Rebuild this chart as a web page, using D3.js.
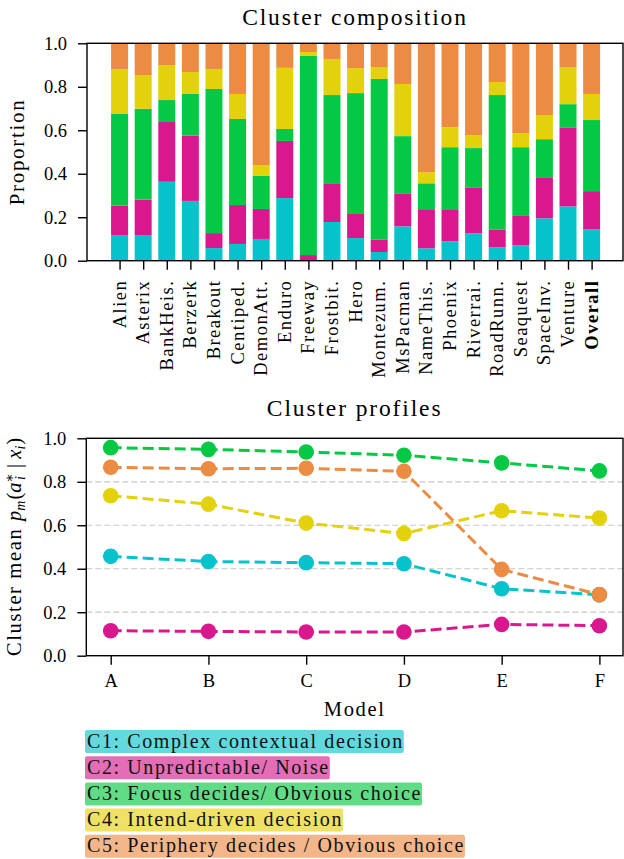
<!DOCTYPE html>
<html>
<head>
<meta charset="utf-8">
<script src="https://cdn.jsdelivr.net/npm/d3@7"></script>
<style>
  body { margin: 0; background: #fff; }
  svg { font-family: "Liberation Serif", "DejaVu Serif", serif; }
  .word { letter-spacing: 0.08em; }
</style>
</head>
<body>
<script>
// games on the top chart
var games = ["Alien", "Asterix", "BankHeis.", "Berzerk", "Breakout", "Centiped.", "DemonAtt.",
  "Enduro", "Freeway", "Frostbit.", "Hero", "Montezum.", "MsPacman", "NameThis.", "Phoenix",
  "Riverrai.", "RoadRunn.", "Seaquest", "SpaceInv.", "Venture", "Overall"];

// share of each cluster per game
var c1 = [0.118, 0.118, 0.363, 0.275, 0.058, 0.077, 0.100, 0.288, 0.000, 0.178, 0.104,
  0.040, 0.158, 0.057, 0.089, 0.126, 0.061, 0.071, 0.195, 0.250, 0.144];
var c2 = [0.135, 0.163, 0.275, 0.300, 0.069, 0.179, 0.138, 0.263, 0.026, 0.175, 0.111,
  0.058, 0.152, 0.180, 0.148, 0.209, 0.083, 0.138, 0.189, 0.361, 0.176];
var c3 = [0.422, 0.418, 0.101, 0.192, 0.663, 0.396, 0.152, 0.055, 0.916, 0.409, 0.556,
  0.738, 0.263, 0.119, 0.285, 0.183, 0.618, 0.313, 0.175, 0.109, 0.327];
var c4 = [0.207, 0.155, 0.161, 0.101, 0.092, 0.115, 0.050, 0.281, 0.018, 0.166, 0.115,
  0.055, 0.240, 0.051, 0.092, 0.060, 0.060, 0.065, 0.111, 0.171, 0.120];
var c5 = [0.118, 0.146, 0.100, 0.132, 0.118, 0.233, 0.560, 0.113, 0.040, 0.072, 0.114,
  0.109, 0.187, 0.593, 0.386, 0.422, 0.178, 0.413, 0.330, 0.109, 0.233];

// bottom chart: cluster mean per model
var models = ["A", "B", "C", "D", "E", "F"];
var mean1 = [0.457, 0.433, 0.428, 0.423, 0.308, 0.280];
var mean2 = [0.115, 0.112, 0.109, 0.109, 0.144, 0.138];
var mean3 = [0.957, 0.949, 0.937, 0.922, 0.887, 0.850];
var mean4 = [0.736, 0.697, 0.610, 0.562, 0.667, 0.633];
var mean5 = [0.867, 0.860, 0.862, 0.848, 0.397, 0.281];

var yTicks = [0, 0.2, 0.4, 0.6, 0.8, 1.0];
var keys = ["c1", "c2", "c3", "c4", "c5"];
var colors = ["#06c3cb", "#da188e", "#05c945", "#e3d10b", "#ec8b42"];
var legendColors = ["#63d9dd", "#e56db5", "#62db87", "#efe066", "#f3b68a"];
var legendLabels = ["C1: Complex contextual decision", "C2: Unpredictable/ Noise",
  "C3: Focus decides/ Obvious choice", "C4: Intend-driven decision",
  "C5: Periphery decides / Obvious choice"];

var width = 624, height = 859;
var tickFont = 18.5;
var svg = d3.select("body").append("svg")
  .attr("width", width).attr("height", height);

// matplotlib-like axis styling
function styleAxis(g) {
  g.attr("font-family", null).attr("font-size", tickFont);
  g.select(".domain").remove();
  g.selectAll("line").attr("stroke", "#000").attr("stroke-width", 1.4);
  g.selectAll("text").attr("fill", "#000");
}

/* ---------- top: stacked bars ---------- */
var top1 = {left: 87, right: 623, top: 43.3, bottom: 260.7};

var table = games.map(function(g, i) {
  return {game: g, i: i, c1: c1[i], c2: c2[i], c3: c3[i], c4: c4[i], c5: c5[i]};
});
var stacked = d3.stack().keys(keys)(table);

var x1 = d3.scaleLinear().domain([-1.38, 21.33]).range([top1.left, top1.right]);
var y1 = d3.scaleLinear().domain([0, 1]).range([top1.bottom, top1.top]);
var barW = x1(0.72) - x1(0);

svg.append("g").selectAll("g")
  .data(stacked)
  .enter().append("g")
  .attr("fill", function(d, k) { return colors[k]; })
  .selectAll("rect")
  .data(function(d) { return d; })
  .enter().append("rect")
  .attr("x", function(d) { return x1(d.data.i) - barW / 2; })
  .attr("y", function(d) { return y1(d[1]); })
  .attr("width", barW)
  .attr("height", function(d) { return y1(d[0]) - y1(d[1]); });

// frame
svg.append("rect")
  .attr("x", top1.left).attr("y", top1.top)
  .attr("width", top1.right - top1.left).attr("height", top1.bottom - top1.top)
  .attr("fill", "none").attr("stroke", "#000").attr("stroke-width", 1.4);

svg.append("g")
  .attr("transform", "translate(" + top1.left + ",0)")
  .call(d3.axisLeft(y1).tickValues(yTicks).tickFormat(d3.format(".1f")).tickSize(9).tickPadding(11))
  .call(styleAxis);

svg.append("g")
  .attr("transform", "translate(0," + top1.bottom + ")")
  .call(d3.axisBottom(x1).tickValues(d3.range(games.length)).tickSize(9).tickFormat(""))
  .call(styleAxis);

svg.append("g").selectAll("text")
  .data(games)
  .enter().append("text")
  .attr("class", "word")
  .attr("transform", function(d, i) { return "translate(" + (x1(i) + 6) + "," + (top1.bottom + 19) + ") rotate(-90)"; })
  .attr("text-anchor", "end")
  .attr("font-size", tickFont)
  .attr("font-weight", function(d) { return d === "Overall" ? "bold" : "normal"; })
  .text(function(d) { return d; });

svg.append("text")
  .attr("class", "word")
  .attr("x", (top1.left + top1.right) / 2).attr("y", 24.5)
  .attr("text-anchor", "middle").attr("font-size", 23.5)
  .text("Cluster composition");

svg.append("text")
  .attr("class", "word")
  .attr("transform", "translate(23.5," + ((top1.top + top1.bottom) / 2) + ") rotate(-90)")
  .attr("text-anchor", "middle").attr("font-size", 21)
  .text("Proportion");

/* ---------- bottom: cluster profiles ---------- */
var bot = {left: 86.3, right: 623, top: 438.3, bottom: 655.7};
var x2 = d3.scalePoint().domain(models).range([110.7, 599.4]);
var y2 = d3.scaleLinear().domain([0, 1]).range([bot.bottom, bot.top]);

svg.append("g").selectAll("line")
  .data([0.2, 0.4, 0.6, 0.8])
  .enter().append("line")
  .attr("x1", bot.left).attr("x2", bot.right)
  .attr("y1", function(d) { return y2(d); }).attr("y2", function(d) { return y2(d); })
  .attr("stroke", "#c8c8c8").attr("stroke-width", 1.2).attr("stroke-dasharray", "6,3");

var series = [mean1, mean2, mean3, mean4, mean5];
var line = d3.line()
  .x(function(d, i) { return x2(models[i]); })
  .y(function(d) { return y2(d); });

series.forEach(function(vals, k) {
  svg.append("path")
    .attr("d", line(vals))
    .attr("fill", "none")
    .attr("stroke", colors[k])
    .attr("stroke-width", 3)
    .attr("stroke-dasharray", "11,5");
  svg.append("g").selectAll("circle")
    .data(vals)
    .enter().append("circle")
    .attr("cx", function(d, i) { return x2(models[i]); })
    .attr("cy", function(d) { return y2(d); })
    .attr("r", 7.8)
    .attr("fill", colors[k]);
});

svg.append("rect")
  .attr("x", bot.left).attr("y", bot.top)
  .attr("width", bot.right - bot.left).attr("height", bot.bottom - bot.top)
  .attr("fill", "none").attr("stroke", "#000").attr("stroke-width", 1.4);

svg.append("g")
  .attr("transform", "translate(" + bot.left + ",0)")
  .call(d3.axisLeft(y2).tickValues(yTicks).tickFormat(d3.format(".1f")).tickSize(9).tickPadding(11))
  .call(styleAxis);

svg.append("g")
  .attr("transform", "translate(0," + bot.bottom + ")")
  .call(d3.axisBottom(x2).tickSize(9).tickPadding(9))
  .call(styleAxis);

svg.append("text")
  .attr("class", "word")
  .attr("x", (bot.left + bot.right) / 2).attr("y", 416)
  .attr("text-anchor", "middle").attr("font-size", 23.5)
  .text("Cluster profiles");

svg.append("text")
  .attr("class", "word")
  .attr("x", (bot.left + bot.right) / 2).attr("y", 716)
  .attr("text-anchor", "middle").attr("font-size", 20.5)
  .text("Model");

// y label with math
var ylab = svg.append("text")
  .attr("transform", "translate(21," + ((bot.top + bot.bottom) / 2) + ") rotate(-90)")
  .attr("text-anchor", "middle").attr("font-size", 20.5);
ylab.append("tspan").attr("class", "word").text("Cluster mean ");
ylab.append("tspan").attr("font-style", "italic").text("p");
ylab.append("tspan").attr("font-size", 14).attr("font-style", "italic").attr("dy", 4).text("m");
ylab.append("tspan").attr("dy", -4).attr("dx", 1).text("(");
ylab.append("tspan").attr("font-style", "italic").text("a");
ylab.append("tspan").attr("font-size", 14).attr("dy", -7).text("∗");
ylab.append("tspan").attr("font-size", 14).attr("font-style", "italic").attr("dx", -7).attr("dy", 11).text("i");
ylab.append("tspan").attr("dy", -4).attr("dx", 3).text(" | ");
ylab.append("tspan").attr("font-style", "italic").text("x");
ylab.append("tspan").attr("font-size", 14).attr("font-style", "italic").attr("dy", 4).text("i");
ylab.append("tspan").attr("dy", -4).attr("dx", 1).text(")");

/* ---------- legend ---------- */
var legend = svg.append("g");
legendLabels.forEach(function(lab, k) {
  var yy = 730 + k * 26.2;
  var rect = legend.append("rect")
    .attr("x", 85).attr("y", yy).attr("height", 23)
    .attr("rx", 2).attr("fill", legendColors[k]);
  var t = legend.append("text")
    .attr("class", "word")
    .attr("x", 87).attr("y", yy + 17.5)
    .attr("font-size", 20).attr("fill", "#111")
    .text(lab);
  rect.attr("width", t.node().getBBox().width + 2);
});
</script>
</body>
</html>
